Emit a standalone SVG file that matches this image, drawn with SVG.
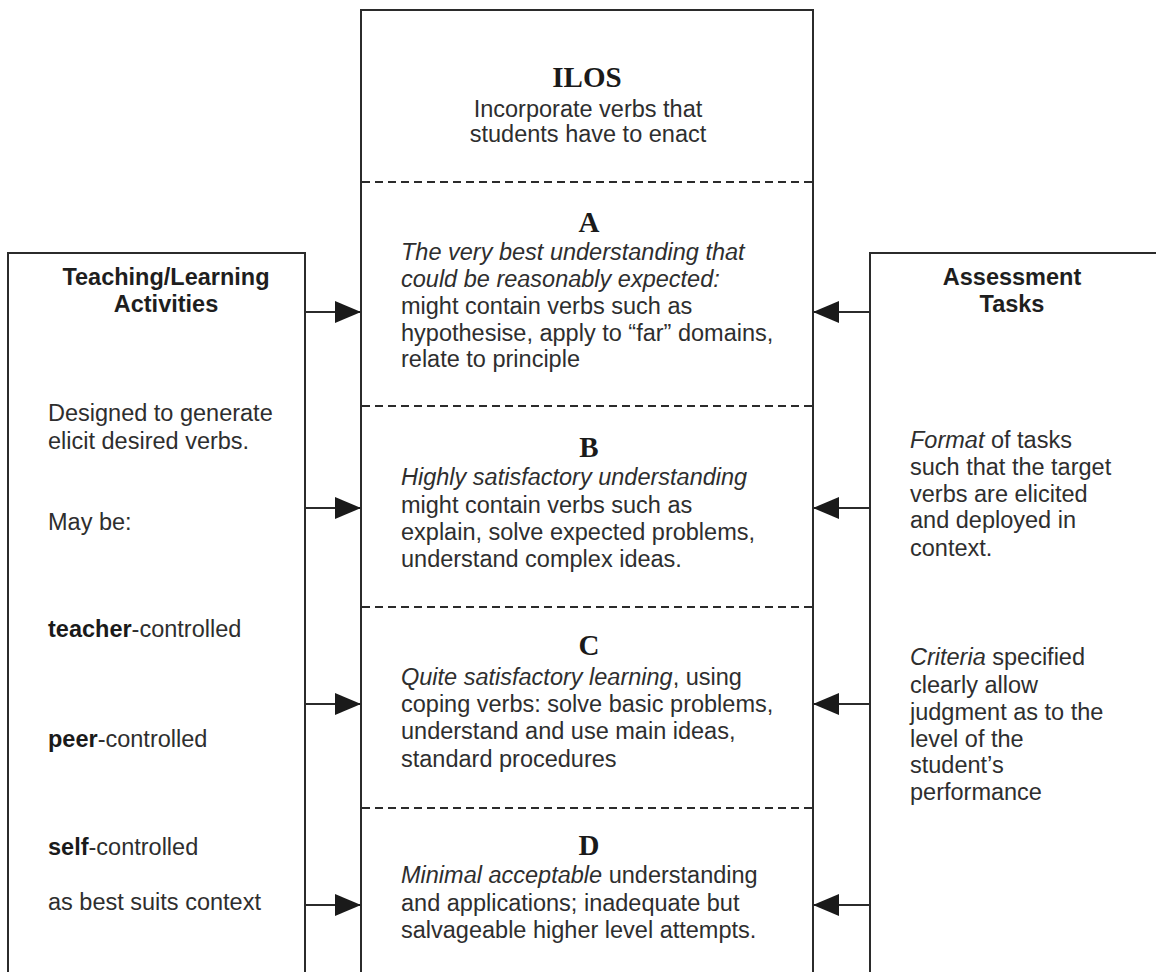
<svg xmlns="http://www.w3.org/2000/svg" width="1156" height="972" viewBox="0 0 1156 972">
  <style>
    .box { fill: #ffffff; stroke: #2b2b2b; stroke-width: 2; }
    .divider { stroke: #2b2b2b; stroke-width: 2; stroke-dasharray: 8 5; fill: none; }
    .link { stroke: #2b2b2b; stroke-width: 2; fill: none; }
    .body { font-family: "Liberation Sans", Arial, sans-serif; font-size: 23.5px; fill: #2e2e2e; }
    .head { font-family: "Liberation Sans", Arial, sans-serif; font-size: 23.5px; font-weight: bold; fill: #1e1e1e; }
    .grade { font-family: "Liberation Serif", "Times New Roman", serif; font-size: 29px; font-weight: bold; fill: #1a1a1a; }
    .it { font-style: italic; }
    .b { font-weight: bold; fill: #1a1a1a; }
  </style>
  <defs>
    <marker id="head" markerUnits="userSpaceOnUse" markerWidth="26" markerHeight="22" refX="26" refY="11" orient="auto">
      <path d="M0,0 L26,11 L0,22 Z" fill="#1a1a1a"/>
    </marker>
  </defs>
  <rect width="1156" height="972" fill="#ffffff"/>

  <!-- Left column: teaching/learning activities -->
  <g id="tla">
    <rect class="box" x="8" y="253" width="297" height="740"/>
    <text class="head" x="166" y="285" text-anchor="middle">Teaching/Learning</text>
    <text class="head" x="166" y="312" text-anchor="middle">Activities</text>
    <text class="body" x="48" y="421">Designed to generate</text>
    <text class="body" x="48" y="449">elicit desired verbs.</text>
    <text class="body" x="48" y="530">May be:</text>
    <text class="body" x="48" y="637"><tspan class="b">teacher</tspan>-controlled</text>
    <text class="body" x="48" y="747"><tspan class="b">peer</tspan>-controlled</text>
    <text class="body" x="48" y="855"><tspan class="b">self</tspan>-controlled</text>
    <text class="body" x="48" y="910">as best suits context</text>
  </g>

  <!-- Centre column: intended learning outcomes -->
  <g id="ilos">
    <rect class="box" x="361" y="10" width="452" height="990"/>
    <text class="grade" x="587" y="87" text-anchor="middle" font-size="30">ILOS</text>
    <text class="body" x="588" y="117" text-anchor="middle">Incorporate verbs that</text>
    <text class="body" x="588" y="142" text-anchor="middle">students have to enact</text>
    <line class="divider" x1="362" y1="182" x2="812" y2="182"/>
  </g>

  <g id="grade-a">
    <text class="grade" x="589" y="232" text-anchor="middle">A</text>
    <text class="body it" x="401" y="260">The very best understanding that</text>
    <text class="body it" x="401" y="287">could be reasonably expected:</text>
    <text class="body" x="401" y="314">might contain verbs such as</text>
    <text class="body" x="401" y="341">hypothesise, apply to “far” domains,</text>
    <text class="body" x="401" y="367">relate to principle</text>
    <line class="divider" x1="362" y1="406" x2="812" y2="406"/>
  </g>

  <g id="grade-b">
    <text class="grade" x="589" y="457" text-anchor="middle">B</text>
    <text class="body it" x="401" y="485">Highly satisfactory understanding</text>
    <text class="body" x="401" y="513">might contain verbs such as</text>
    <text class="body" x="401" y="540">explain, solve expected problems,</text>
    <text class="body" x="401" y="567">understand complex ideas.</text>
    <line class="divider" x1="362" y1="607" x2="812" y2="607"/>
  </g>

  <g id="grade-c">
    <text class="grade" x="589" y="655" text-anchor="middle">C</text>
    <text class="body" x="401" y="685"><tspan class="it">Quite satisfactory learning</tspan>, using</text>
    <text class="body" x="401" y="712">coping verbs: solve basic problems,</text>
    <text class="body" x="401" y="739">understand and use main ideas,</text>
    <text class="body" x="401" y="767">standard procedures</text>
    <line class="divider" x1="362" y1="808" x2="812" y2="808"/>
  </g>

  <g id="grade-d">
    <text class="grade" x="589" y="855" text-anchor="middle">D</text>
    <text class="body" x="401" y="883"><tspan class="it">Minimal acceptable</tspan> understanding</text>
    <text class="body" x="401" y="911">and applications; inadequate but</text>
    <text class="body" x="401" y="938">salvageable higher level attempts.</text>
  </g>

  <!-- Right column: assessment tasks -->
  <g id="assessment">
    <rect class="box" x="870" y="253" width="300" height="740"/>
    <text class="head" x="1012" y="285" text-anchor="middle">Assessment</text>
    <text class="head" x="1012" y="312" text-anchor="middle">Tasks</text>
    <text class="body" x="910" y="448"><tspan class="it">Format</tspan> of tasks</text>
    <text class="body" x="910" y="475">such that the target</text>
    <text class="body" x="910" y="502">verbs are elicited</text>
    <text class="body" x="910" y="528">and deployed in</text>
    <text class="body" x="910" y="556">context.</text>
    <text class="body" x="910" y="665"><tspan class="it">Criteria</tspan> specified</text>
    <text class="body" x="910" y="693">clearly allow</text>
    <text class="body" x="910" y="720">judgment as to the</text>
    <text class="body" x="910" y="747">level of the</text>
    <text class="body" x="910" y="773">student’s</text>
    <text class="body" x="910" y="800">performance</text>
  </g>

  <!-- Connectors into the outcome levels -->
  <g id="connectors">
    <line class="link" x1="305" y1="312" x2="361" y2="312" marker-end="url(#head)"/>
    <line class="link" x1="305" y1="508" x2="361" y2="508" marker-end="url(#head)"/>
    <line class="link" x1="305" y1="704" x2="361" y2="704" marker-end="url(#head)"/>
    <line class="link" x1="305" y1="905" x2="361" y2="905" marker-end="url(#head)"/>
    <line class="link" x1="870" y1="312" x2="813" y2="312" marker-end="url(#head)"/>
    <line class="link" x1="870" y1="508" x2="813" y2="508" marker-end="url(#head)"/>
    <line class="link" x1="870" y1="704" x2="813" y2="704" marker-end="url(#head)"/>
    <line class="link" x1="870" y1="905" x2="813" y2="905" marker-end="url(#head)"/>
  </g>
</svg>
